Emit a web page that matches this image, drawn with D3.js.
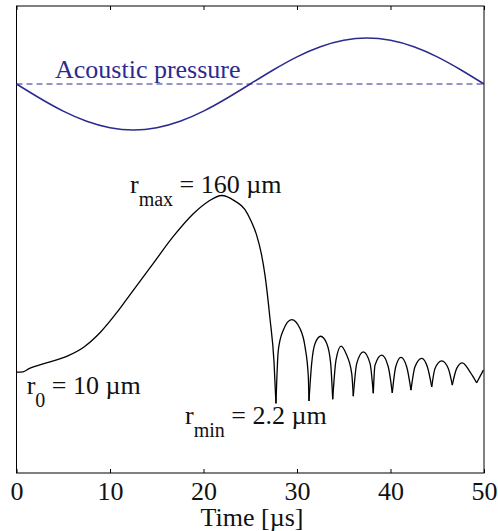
<!DOCTYPE html>
<html>
<head>
  <meta charset="utf-8">
  <title>Bubble radius and acoustic pressure</title>
  <script src="https://d3js.org/d3.v7.min.js"></script>
  <style>
    body { margin: 0; background: #fff; }
    svg text { font-family: "Liberation Serif", "Times New Roman", Tinos, "DejaVu Serif", serif !important; }
  </style>
</head>
<body>
<svg width="498" height="531"></svg>
<script>
  // x ticks (time in microseconds)
  const timeTicks = [0, 10, 20, 30, 40, 50];

  // acoustic pressure, normalised, sampled every 2.5 us
  const pressureTime = [0, 2.5, 5, 7.5, 10, 12.5, 15, 17.5, 20, 22.5, 25,
                        27.5, 30, 32.5, 35, 37.5, 40, 42.5, 45, 47.5, 50];
  const pressureValue = [0, -0.31, -0.59, -0.81, -0.95, -1, -0.95, -0.81, -0.59, -0.31, 0,
                         0.31, 0.59, 0.81, 0.95, 1, 0.95, 0.81, 0.59, 0.31, 0];

  // bubble radius [us, um]: growth and first collapse
  const growthPhase = [
    [0, 10.0], [0.7, 10.1], [1.34, 11.2], [3.29, 13.5], [5.43, 16.2], [7.22, 20.4],
    [9.0, 28.3], [10.78, 40.9], [12.25, 54.7], [14.63, 81.1], [16.77, 109.2],
    [18.91, 136.2], [20.51, 152.0], [21.95, 160], [23.37, 152.5], [24.44, 141.5],
    [25.1, 127], [25.69, 110.4], [26.2, 90], [26.58, 69.9], [27.11, 36.5],
    [27.54, 13.8], [27.75, 2.2]
  ];

  // bubble radius [us, um]: rebounds after the collapse
  const reboundPhase = [
    [27.75, 2.2], [28.0, 18.8], [28.53, 29.3], [29.43, 35.8], [30.32, 30.3], [30.86, 20.4],
    [31.21, 8.5], [31.28, 2.6],
    [31.57, 13.2], [31.93, 22.1], [32.53, 25.9], [33.18, 22.1], [33.6, 13.2], [33.82, 2.9],
    [34.17, 14.5], [34.71, 20.8], [35.24, 17.3], [35.85, 9.6], [36.02, 3.5],
    [36.39, 13.2], [37.09, 18.1], [37.81, 13.2], [38.16, 4.1],
    [38.34, 12.5], [39.06, 16.6], [39.76, 11.9], [40.19, 4.2],
    [40.56, 11.9], [41.12, 15.6], [41.73, 11.9], [42.19, 4.8],
    [42.62, 11.9], [43.34, 15.2], [43.94, 11.9], [44.41, 5.6],
    [44.76, 11.3], [45.48, 14.2], [46.18, 11.3], [46.61, 6.1],
    [47.08, 11.3], [47.68, 13.4], [48.5, 10.1], [49.22, 6.7],
    [49.93, 10.7]
  ];

  const svg = d3.select("svg");
  const plotLeft = 16.5, plotRight = 484, plotTop = 6, plotBottom = 473;
  const serif = "'Liberation Serif', 'Times New Roman', Tinos, 'DejaVu Serif', serif";

  const x = d3.scaleLinear().domain([0, 50]).range([plotLeft, plotRight]);
  const yR = d3.scaleSqrt().domain([0, 160]).range([431, 195.5]);
  const yP = d3.scaleLinear().domain([-1, 1]).range([130, 38]);

  const blue = "#2b2b8f";

  // frame
  svg.append("rect")
    .attr("x", plotLeft).attr("y", plotTop)
    .attr("width", plotRight - plotLeft).attr("height", plotBottom - plotTop)
    .attr("fill", "none").attr("stroke", "#000").attr("stroke-width", 1);

  // bottom axis, ticks pointing in
  const xAxis = svg.append("g")
    .attr("transform", `translate(0,${plotBottom})`)
    .call(d3.axisBottom(x).tickValues(timeTicks).tickSizeInner(-4).tickSizeOuter(0).tickPadding(9));
  xAxis.attr("font-family", serif);
  xAxis.select(".domain").remove();
  xAxis.selectAll("text").attr("font-size", 26).attr("fill", "#111");

  // top axis, ticks only
  const xTop = svg.append("g")
    .attr("transform", `translate(0,${plotTop})`)
    .call(d3.axisTop(x).tickValues(timeTicks).tickSizeInner(-4).tickSizeOuter(0).tickFormat(""));
  xTop.select(".domain").remove();

  svg.append("text")
    .attr("x", 252).attr("y", 526)
    .attr("text-anchor", "middle")
    .attr("font-family", serif)
    .attr("font-size", 26).attr("fill", "#111")
    .text("Time [µs]");

  // pressure zero line and curve
  svg.append("line")
    .attr("x1", x(0)).attr("x2", x(50))
    .attr("y1", yP(0)).attr("y2", yP(0))
    .attr("stroke", blue).attr("stroke-width", 1)
    .attr("stroke-dasharray", "6,4");

  const pLine = d3.line()
    .x((d, i) => x(pressureTime[i]))
    .y(d => yP(d))
    .curve(d3.curveNatural);

  svg.append("path")
    .datum(pressureValue)
    .attr("d", pLine)
    .attr("fill", "none").attr("stroke", blue).attr("stroke-width", 1.5);

  svg.append("text")
    .attr("x", 55).attr("y", 78)
    .attr("font-family", serif)
    .attr("font-size", 26).attr("fill", blue)
    .text("Acoustic pressure");

  // radius curve: each arc drawn on its own so the minima stay sharp
  const arcs = [growthPhase];
  let current = [reboundPhase[0]];
  for (let i = 1; i < reboundPhase.length; i++) {
    current.push(reboundPhase[i]);
    const isMin = i < reboundPhase.length - 1 &&
      reboundPhase[i][1] < reboundPhase[i - 1][1] && reboundPhase[i][1] < reboundPhase[i + 1][1];
    if (isMin) { arcs.push(current); current = [reboundPhase[i]]; }
  }
  arcs.push(current);

  const rLine = d3.line()
    .x(d => x(d[0]))
    .y(d => yR(d[1]))
    .curve(d3.curveMonotoneX);

  svg.selectAll(".arc")
    .data(arcs)
    .enter().append("path")
    .attr("class", "arc")
    .attr("d", rLine)
    .attr("fill", "none").attr("stroke", "#000").attr("stroke-width", 1.3);

  // annotations
  function label(xPos, yPos, sub, rest) {
    const t = svg.append("text")
      .attr("x", xPos).attr("y", yPos)
      .attr("font-family", serif)
      .attr("font-size", 26).attr("fill", "#111");
    t.append("tspan").text("r");
    t.append("tspan").attr("dy", 13).attr("font-size", 20).text(sub);
    t.append("tspan").attr("dy", -13).text(rest);
  }
  label(130, 193, "max", " = 160 µm");
  label(26.7, 394, "0", " = 10 µm");
  label(185, 424, "min", " = 2.2 µm");
</script>
</body>
</html>
